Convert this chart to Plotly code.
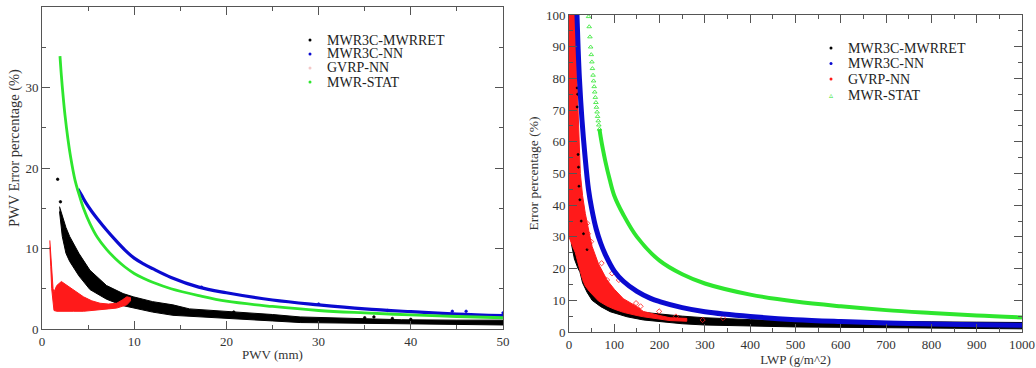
import plotly.graph_objects as go

# ---------------- Left panel: PWV ----------------
pwv_ret_x  = [1.9, 2.2, 2.6, 3.0, 3.4, 4.0, 5.2, 7.0, 8.8, 9.9, 12, 14.2, 16, 20, 25, 28, 35, 39, 45, 50]
pwv_ret_hi = [15.2, 14.0, 12.6, 11.5, 10.7, 9.4, 7.3, 5.4, 4.4, 4.0, 3.4, 3.0, 2.5, 2.2, 1.8, 1.5, 1.3, 1.15, 1.1, 1.1]
pwv_ret_lo = [14.6, 11.5, 9.4, 8.4, 7.7, 6.6, 4.9, 3.7, 2.9, 2.6, 2.1, 1.7, 1.5, 1.3, 1.0, 0.8, 0.7, 0.6, 0.55, 0.5]
pwv_ret_out_x = [1.7, 2.0, 20.8, 35, 36, 38, 40]
pwv_ret_out_y = [18.6, 15.8, 2.1, 1.4, 1.5, 1.3, 1.2]

pwv_nn_x = [3.9, 4.3, 4.8, 5.4, 6.0, 7.0, 8.0, 9.0, 10, 11, 12, 14, 17, 20, 25, 30, 35, 40, 45, 50]
pwv_nn_y = [17.4, 16.6, 15.6, 14.6, 13.7, 12.3, 11.0, 9.8, 8.8, 8.1, 7.5, 6.4, 5.2, 4.5, 3.6, 3.0, 2.5, 2.15, 1.85, 1.65]
pwv_nn_out_x = [17.3, 30, 37.5, 44.5, 46, 50]
pwv_nn_out_y = [5.2, 3.1, 2.3, 2.2, 2.2, 2.0]

pwv_gvrp_x  = [0.85, 0.95, 1.05, 1.2, 1.3, 1.6, 2.1, 2.6, 3.4, 4.5, 5.4, 6.3, 7.2, 8.1, 8.7, 9.2, 9.6]
pwv_gvrp_hi = [11.0, 9.0, 6.5, 5.0, 4.6, 5.4, 5.9, 5.5, 4.8, 4.0, 3.5, 3.2, 3.1, 3.2, 3.6, 4.0, 3.9]
pwv_gvrp_lo = [10.2, 7.8, 5.0, 3.2, 2.3, 2.2, 2.2, 2.2, 2.2, 2.2, 2.3, 2.4, 2.5, 2.6, 2.8, 3.0, 3.5]

pwv_stat_x = [1.95, 2.1, 2.3, 2.5, 2.8, 3.1, 3.58, 4, 4.5, 5.2, 6, 7, 8, 9, 10, 11, 12, 14, 17, 20, 25, 30, 35, 40, 45, 50]
pwv_stat_y = [33.9, 31.5, 28.8, 26.5, 23.7, 21.4, 18.5, 16.8, 15.0, 13.1, 11.4, 9.9, 8.7, 7.7, 6.9, 6.3, 5.8, 5.0, 4.15, 3.45, 2.8, 2.3, 2.0, 1.75, 1.55, 1.4]

# ---------------- Right panel: LWP ----------------
lwp_ret_x  = [5, 12, 20, 24, 30, 40, 51, 70, 91, 128, 164, 200, 250, 300, 400, 500, 600, 700, 800, 900, 1000]
lwp_ret_hi = [40, 30, 24, 21, 18, 14.5, 12.5, 10.5, 9, 7.2, 6.2, 5.6, 5.0, 4.5, 3.9, 3.6, 3.4, 3.3, 3.2, 3.1, 3.0]
lwp_ret_lo = [28, 23, 20, 19, 15.5, 12.5, 10, 8, 6.4, 4.8, 3.8, 3.2, 2.6, 2.2, 1.9, 1.6, 1.5, 1.3, 1.2, 1.1, 1.0]
lwp_ret_out_x = [18, 19, 18, 20, 21, 22, 24, 27, 32, 40]
lwp_ret_out_y = [77, 75, 71, 56, 52, 46, 41.7, 35, 31, 26]

lwp_nn_x = [17.6, 20, 23, 28.6, 35, 43, 50, 60, 70, 80, 100, 120, 150, 180, 200, 250, 300, 400, 500, 600, 700, 800, 900, 1000]
lwp_nn_y = [100, 90, 80, 67, 56, 45, 39, 32.5, 28, 24.5, 19.2, 16, 12.8, 10.6, 9.6, 7.7, 6.4, 4.9, 3.9, 3.3, 2.85, 2.5, 2.3, 2.1]

lwp_gvrp_x  = [0, 3, 8, 14, 18, 22, 25, 30, 36, 45, 51, 65, 84, 100, 120, 150, 164, 200, 223, 260]
lwp_gvrp_hi = [100, 100, 100, 100, 78, 62, 50, 43, 37.4, 31, 27, 21.5, 16.4, 13.5, 10.5, 8, 6.5, 5.2, 4.5, 4.3]
lwp_gvrp_lo = [30, 29, 27, 25, 23, 20.5, 19, 16.5, 14.5, 12.8, 11.7, 9.8, 8.2, 7.2, 6.2, 5.2, 4.8, 4.0, 3.6, 3.4]
lwp_gvrp_out_x = [40, 42, 49, 42, 57, 72, 60, 95, 84, 110, 92, 148, 158, 199, 236, 295, 340]
lwp_gvrp_out_y = [34.3, 31, 28.5, 26.9, 22.2, 21.7, 20.1, 18.5, 16.4, 16.4, 13.3, 9.1, 8.1, 6.5, 4.9, 3.8, 4.4]

lwp_stat_tri_x = [43.2, 44.6, 46.2, 47.8, 49.1, 50.5, 51.7, 53.1, 54.3, 55.6, 56.8, 58.1, 59.4, 60.6, 62.0, 63.2, 64.6, 65.8, 67.2]
lwp_stat_tri_y = [99.5, 96.3, 93.1, 89.9, 87.5, 85.2, 83.1, 81.0, 79.2, 77.4, 75.7, 74.0, 72.4, 70.9, 69.4, 68.0, 66.6, 65.3, 64.0]
lwp_stat_x = [67.2, 70, 75, 80, 90, 100, 120, 150, 200, 250, 300, 400, 500, 600, 700, 800, 900, 1000]
lwp_stat_y = [64.0, 61.5, 57.5, 54.0, 48.0, 43.0, 37.0, 30.0, 22.5, 18.2, 15.3, 11.8, 9.6, 8.1, 6.9, 6.0, 5.2, 4.6]

legend_names = ["MWR3C-MWRRET", "MWR3C-NN", "GVRP-NN", "MWR-STAT"]

BLACK = "#000000"
BLUE = "#0a0ad0"
RED = "#ff1a1a"
GREEN = "#2ee62e"
FONT = "Liberation Serif, Times New Roman, serif"

fig = go.Figure()


def band(x, lo, hi, color, xa, ya):
    fig.add_trace(go.Scatter(
        x=list(x) + list(x)[::-1], y=list(hi) + list(lo)[::-1],
        mode="lines", fill="toself", fillcolor=color,
        line=dict(color=color, width=1), showlegend=False,
        hoverinfo="skip", xaxis=xa, yaxis=ya))


def curve(x, y, color, width, xa, ya):
    fig.add_trace(go.Scatter(x=x, y=y, mode="lines",
                             line=dict(color=color, width=width, shape="spline", smoothing=1.0),
                             showlegend=False, xaxis=xa, yaxis=ya))


def dots(x, y, color, size, symbol, xa, ya):
    fig.add_trace(go.Scatter(x=x, y=y, mode="markers",
                             marker=dict(color=color, size=size, symbol=symbol,
                                         line=dict(width=0.8, color=color)),
                             showlegend=False, xaxis=xa, yaxis=ya))


# Left panel traces
band(pwv_ret_x, pwv_ret_lo, pwv_ret_hi, BLACK, "x", "y")
dots(pwv_ret_out_x, pwv_ret_out_y, BLACK, 2.5, "circle", "x", "y")
curve(pwv_nn_x, pwv_nn_y, BLUE, 3.2, "x", "y")
dots(pwv_nn_out_x, pwv_nn_out_y, BLUE, 2.5, "circle", "x", "y")
band(pwv_gvrp_x, pwv_gvrp_lo, pwv_gvrp_hi, RED, "x", "y")
curve(pwv_stat_x, pwv_stat_y, GREEN, 2.8, "x", "y")

# Right panel traces
band(lwp_ret_x, lwp_ret_lo, lwp_ret_hi, BLACK, "x2", "y2")
band(lwp_gvrp_x, lwp_gvrp_lo, lwp_gvrp_hi, RED, "x2", "y2")
dots(lwp_ret_out_x, lwp_ret_out_y, BLACK, 2, "circle", "x2", "y2")
dots(lwp_gvrp_out_x, lwp_gvrp_out_y, RED, 4, "diamond-open", "x2", "y2")
curve(lwp_nn_x, lwp_nn_y, BLUE, 5, "x2", "y2")
dots(lwp_stat_tri_x, lwp_stat_tri_y, GREEN, 4, "triangle-up-open", "x2", "y2")
curve(lwp_stat_x, lwp_stat_y, GREEN, 4, "x2", "y2")

W, H = 1036, 368


def axis(domain, rng, dtick, minor, title, standoff, anchor, title_size=13):
    return dict(
        domain=domain, range=rng, dtick=dtick, tick0=0, anchor=anchor,
        ticks="inside", ticklen=8, tickwidth=1, tickcolor="#555",
        minor=dict(dtick=minor, ticks="inside", ticklen=4, tickwidth=1, tickcolor="#555"),
        showline=True, linecolor="#555", linewidth=1, mirror="allticks",
        showgrid=False, zeroline=False, automargin=False,
        tickfont=dict(family=FONT, size=13, color="#333"),
        title=dict(text=title, font=dict(family=FONT, size=title_size, color="#333"), standoff=standoff),
    )


fig.update_layout(
    width=W, height=H, margin=dict(l=0, r=0, t=0, b=0),
    paper_bgcolor="white", plot_bgcolor="white", showlegend=False,
    font=dict(family=FONT),
    xaxis=axis([42 / W, 503 / W], [0, 50], 10, 5, "PWV (mm)", 2, "y"),
    yaxis=axis([1 - 329 / H, 1 - 7 / H], [0, 40], 10, 5, "", 4, "x", 14.5),
    xaxis2=axis([569 / W, 1022 / W], [0, 1000], 100, 50, "LWP (g/m^2)", 2, "y2"),
    yaxis2=axis([1 - 332 / H, 1 - 15 / H], [0, 100], 10, 5, "Error percentage (%)", 4, "x2", 13.5),
)

# Left y-axis title (placed slightly above the axis centre, as in the original)
fig.add_annotation(x=14 / W, y=1 - 148 / H, xref="paper", yref="paper",
                   xanchor="center", yanchor="middle", showarrow=False, textangle=-90,
                   text="PWV Error percentage (%)",
                   font=dict(family=FONT, size=14.5, color="#333"))

# Legends (drawn as text + small symbols to reproduce the compact spacing)
left_leg = dict(text_x=325, mark_x=310, rows=[40, 54, 68, 82],
                colors=[BLACK, BLUE, "#f3c8c8", GREEN])
right_leg = dict(text_x=846, mark_x=831, rows=[48, 63.5, 79, 95],
                 colors=[BLACK, BLUE, RED, GREEN])

for leg, right in ((left_leg, False), (right_leg, True)):
    for i, name in enumerate(legend_names):
        yc = leg["rows"][i]
        fig.add_annotation(x=leg["text_x"] / W, y=1 - yc / H, xref="paper", yref="paper",
                           xanchor="left", yanchor="middle", showarrow=False,
                           text=name, font=dict(family=FONT, size=14, color="#222"))
        col = leg["colors"][i]
        if right and i == 3:
            fig.add_annotation(x=leg["mark_x"] / W, y=1 - yc / H, xref="paper", yref="paper",
                               xanchor="center", yanchor="middle", showarrow=False,
                               text="\u25b5", font=dict(family="DejaVu Sans", size=8, color=col))
        else:
            r = 1.5
            fig.add_shape(type="circle", xref="paper", yref="paper",
                          xsizemode="pixel", ysizemode="pixel",
                          xanchor=leg["mark_x"] / W, yanchor=1 - yc / H,
                          x0=-r, x1=r, y0=-r, y1=r,
                          fillcolor=col, line=dict(width=0))

fig.write_html("out.html")
